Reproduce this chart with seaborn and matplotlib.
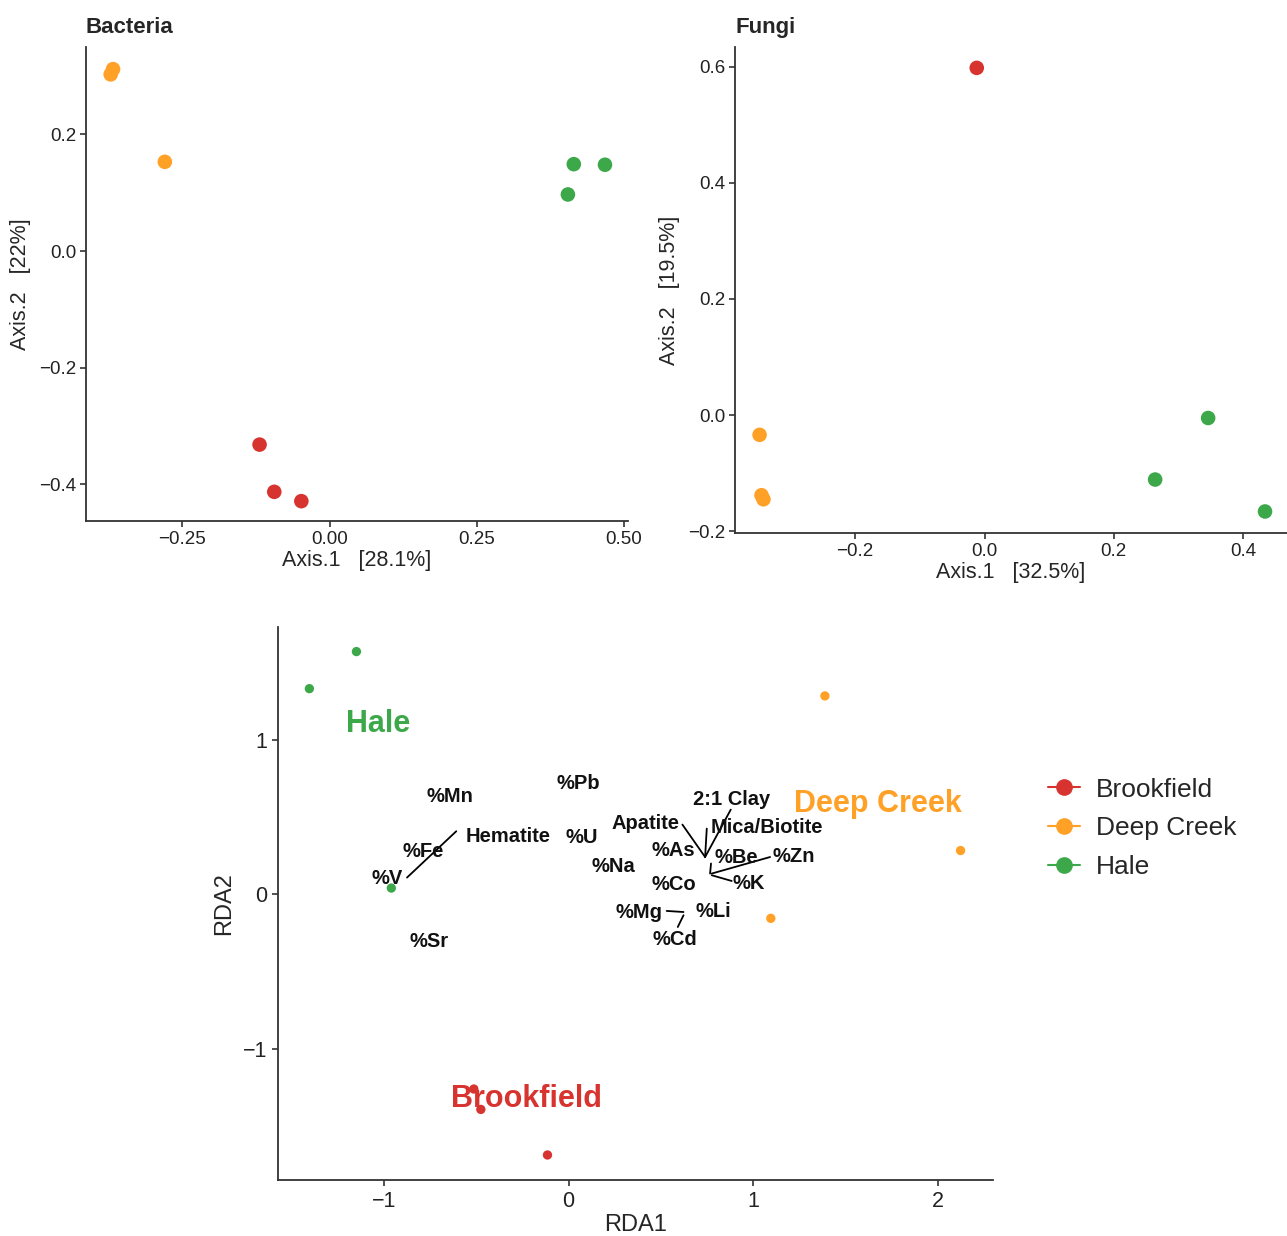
import pandas as pd
import seaborn as sns
import matplotlib.pyplot as plt
from matplotlib.lines import Line2D

# site colours
sites = ['Brookfield', 'Deep Creek', 'Hale']
colors = {'Brookfield': '#D7332F', 'Deep Creek': '#FFA126', 'Hale': '#3DA84A'}

# Bacteria PCoA
bac_site = ['Deep Creek', 'Deep Creek', 'Deep Creek',
            'Brookfield', 'Brookfield', 'Brookfield',
            'Hale', 'Hale', 'Hale']
bac_ax1 = [-0.368, -0.372, -0.280, -0.119, -0.094, -0.048, 0.415, 0.468, 0.405]
bac_ax2 = [0.312, 0.303, 0.153, -0.332, -0.413, -0.429, 0.149, 0.148, 0.097]

# Fungi PCoA
fun_site = ['Brookfield',
            'Deep Creek', 'Deep Creek', 'Deep Creek',
            'Hale', 'Hale', 'Hale']
fun_ax1 = [-0.012, -0.348, -0.345, -0.342, 0.346, 0.264, 0.434]
fun_ax2 = [0.598, -0.034, -0.138, -0.145, -0.005, -0.111, -0.166]

# RDA site scores
rda_site = ['Hale', 'Hale', 'Hale',
            'Deep Creek', 'Deep Creek', 'Deep Creek',
            'Brookfield', 'Brookfield', 'Brookfield']
rda1 = [-1.149, -1.404, -0.960, 1.389, 2.124, 1.096, -0.114, -0.513, -0.475]
rda2 = [1.571, 1.331, 0.040, 1.284, 0.283, -0.156, -1.688, -1.261, -1.393]

# group labels
grp_names = ['Hale', 'Deep Creek', 'Brookfield']
grp_x = [-1.03, 1.677, -0.227]
grp_y = [1.10, 0.585, -1.323]

# environmental variable labels
env_names = ['%Mn', '%Pb', 'Hematite', '%U', '%Fe', '%V', '%Na', 'Apatite',
             '2:1 Clay', 'Mica/Biotite', '%As', '%Be', '%Zn', '%Co', '%K',
             '%Mg', '%Li', '%Cd', '%Sr']
env_x = [-0.641, 0.054, -0.325, 0.072, -0.789, -0.984, 0.244, 0.415,
         0.884, 1.074, 0.569, 0.911, 1.218, 0.569, 0.978,
         0.383, 0.785, 0.578, -0.758]
env_y = [0.634, 0.716, 0.371, 0.367, 0.274, 0.101, 0.181, 0.457,
         0.613, 0.429, 0.280, 0.241, 0.246, 0.065, 0.069,
         -0.119, -0.114, -0.293, -0.309]

# leader segments from labels
seg_x0 = [-0.875, 0.740, 0.617, 0.749, 0.776, 0.772, 0.776, 0.532, 0.623]
seg_y0 = [0.108, 0.241, 0.451, 0.425, 0.134, 0.199, 0.123, -0.108, -0.136]
seg_x1 = [-0.608, 0.879, 0.740, 0.740, 1.092, 0.767, 0.884, 0.623, 0.592]
seg_y1 = [0.408, 0.548, 0.241, 0.241, 0.241, 0.134, 0.086, -0.115, -0.212]

sns.set_theme(style="ticks")
plt.rcParams['font.family'] = ['Liberation Sans', 'DejaVu Sans']
plt.rcParams['axes.edgecolor'] = '#333333'
plt.rcParams['xtick.color'] = '#333333'
plt.rcParams['ytick.color'] = '#333333'
plt.rcParams['xtick.labelcolor'] = '#222222'
plt.rcParams['ytick.labelcolor'] = '#222222'

fig = plt.figure(figsize=(12.87, 12.36), dpi=100)
ax_b = fig.add_axes([0.0668, 0.5785, 0.4211, 0.3835])
ax_f = fig.add_axes([0.5711, 0.5688, 0.4289, 0.3932])
ax_r = fig.add_axes([0.216, 0.0453, 0.5556, 0.4474])

df_b = pd.DataFrame({'x': bac_ax1, 'y': bac_ax2, 'site': bac_site})
df_f = pd.DataFrame({'x': fun_ax1, 'y': fun_ax2, 'site': fun_site})
df_r = pd.DataFrame({'x': rda1, 'y': rda2, 'site': rda_site})

sns.scatterplot(data=df_b, x='x', y='y', hue='site', palette=colors, s=110,
                linewidth=0, legend=False, ax=ax_b)
sns.scatterplot(data=df_f, x='x', y='y', hue='site', palette=colors, s=110,
                linewidth=0, legend=False, ax=ax_f)
sns.scatterplot(data=df_r, x='x', y='y', hue='site', palette=colors, s=45,
                linewidth=0, legend=False, ax=ax_r)

# Bacteria panel
ax_b.set_xlim(-0.414, 0.507)
ax_b.set_ylim(-0.463, 0.35)
ax_b.set_xticks([-0.25, 0.0, 0.25, 0.50])
ax_b.set_xticklabels(['\u22120.25', '0.00', '0.25', '0.50'])
ax_b.set_yticks([-0.4, -0.2, 0.0, 0.2])
ax_b.set_yticklabels(['\u22120.4', '\u22120.2', '0.0', '0.2'])
ax_b.set_xlabel('Axis.1   [28.1%]', fontsize=15.5, labelpad=2)
ax_b.set_ylabel('Axis.2   [22%]', fontsize=15.5, labelpad=6)
ax_b.set_title('Bacteria', loc='left', fontsize=16, fontweight='bold', pad=10)

# Fungi panel
ax_f.set_xlim(-0.386, 0.468)
ax_f.set_ylim(-0.203, 0.634)
ax_f.set_xticks([-0.2, 0.0, 0.2, 0.4])
ax_f.set_xticklabels(['\u22120.2', '0.0', '0.2', '0.4'])
ax_f.set_yticks([-0.2, 0.0, 0.2, 0.4, 0.6])
ax_f.set_yticklabels(['\u22120.2', '0.0', '0.2', '0.4', '0.6'])
ax_f.set_xlabel('Axis.1   [32.5%]', fontsize=15.5, labelpad=2)
ax_f.set_ylabel('Axis.2   [19.5%]', fontsize=15.5, labelpad=6)
ax_f.set_title('Fungi', loc='left', fontsize=16, fontweight='bold', pad=10)

for ax in (ax_b, ax_f):
    ax.tick_params(labelsize=13.5, length=4, width=1.2, pad=3)

# RDA panel
for x0, y0, x1, y1 in zip(seg_x0, seg_y0, seg_x1, seg_y1):
    ax_r.plot([x0, x1], [y0, y1], color='black', lw=1.3)
for name, x, y in zip(env_names, env_x, env_y):
    ax_r.text(x, y, name, ha='center', va='center', fontsize=14.5,
              fontweight='bold', color='#111111')
for name, x, y in zip(grp_names, grp_x, grp_y):
    ax_r.text(x, y, name, ha='center', va='center', fontsize=22,
              fontweight='bold', color=colors[name])

ax_r.set_xlim(-1.574, 2.30)
ax_r.set_ylim(-1.85, 1.73)
ax_r.set_xticks([-1, 0, 1, 2])
ax_r.set_xticklabels(['\u22121', '0', '1', '2'])
ax_r.set_yticks([-1, 0, 1])
ax_r.set_yticklabels(['\u22121', '0', '1'])
ax_r.set_xlabel('RDA1', fontsize=17, labelpad=1)
ax_r.set_ylabel('RDA2', fontsize=17, labelpad=5)
ax_r.tick_params(labelsize=15.5, length=4, width=1.2, pad=4)

for ax in (ax_b, ax_f, ax_r):
    sns.despine(ax=ax)
    for sp in ax.spines.values():
        sp.set_linewidth(1.3)

handles = [Line2D([0], [0], color=colors[s], marker='o', markersize=11, lw=1.5)
           for s in sites]
fig.legend(handles, sites, loc='upper left', bbox_to_anchor=(0.796, 0.39),
           frameon=False, fontsize=19, handlelength=1.2, handletextpad=0.6,
           labelspacing=0.55)

fig.savefig('out.png', dpi=100)
